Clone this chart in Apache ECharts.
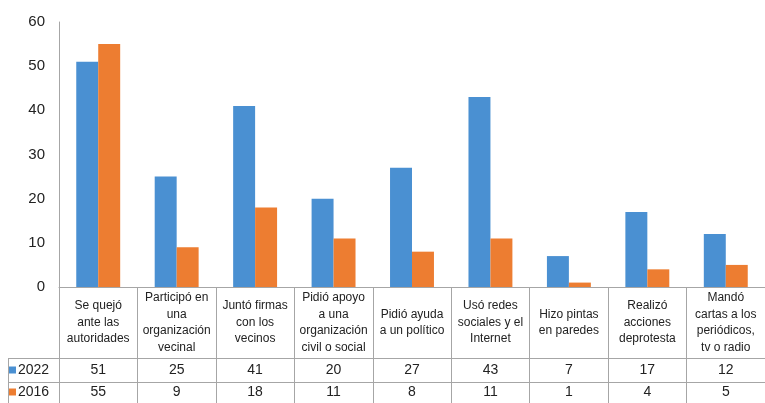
<!DOCTYPE html>
<html>
<head>
<meta charset="utf-8">
<script src="https://cdn.jsdelivr.net/npm/echarts@6/dist/echarts.min.js"></script>
<style>html,body{margin:0;padding:0;background:#fff;}#c{width:765px;height:403px;}</style>
</head>
<body>
<div id="c"></div>
<script>
const categories = [
  "Se quejó\nante las\nautoridades",
  "Participó en\nuna\norganización\nvecinal",
  "Juntó firmas\ncon los\nvecinos",
  "Pidió apoyo\na una\norganización\ncivil o social",
  "Pidió ayuda\na un político",
  "Usó redes\nsociales y el\nInternet",
  "Hizo pintas\nen paredes",
  "Realizó\nacciones\ndeprotesta",
  "Mandó\ncartas a los\nperiódicos,\ntv o radio"
];
const values2022 = [51, 25, 41, 20, 27, 43, 7, 17, 12];
const values2016 = [55, 9, 18, 11, 8, 11, 1, 4, 5];
const seriesNames = ["2022", "2016"];

const blue = '#4A90D2';
const orange = '#ED7D31';
const lineColor = '#A6A6A6';
const font = 'Liberation Sans, Arial, sans-serif';

const chart = echarts.init(document.getElementById('c'), null, {renderer: 'canvas'});
chart.setOption({
  animation: false,
  textStyle: {fontFamily: font},
  grid: {left: 59, right: -4, top: 22, bottom: 116, containLabel: false},
  legend: {
    orient: 'vertical', left: 9, top: 363, padding: 0, itemGap: 8,
    itemWidth: 7, itemHeight: 7, icon: 'rect',
    textStyle: {fontSize: 14, color: '#222', fontFamily: font, padding: [0,0,0,-3]},
    data: seriesNames
  },
  xAxis: [
    {
      type: 'category', data: categories, position: 'bottom',
      axisLine: {show: true, lineStyle: {color: lineColor, width: 1}},
      axisTick: {show: true, length: 116, alignWithLabel: false, lineStyle: {color: lineColor}},
      axisLabel: {interval: 0, fontSize: 12, lineHeight: 16.5, color: '#222', margin: 35.5,
                  verticalAlign: 'middle', align: 'center', fontFamily: font}
    },
    {
      type: 'category', data: categories, position: 'bottom', offset: 71,
      axisLine: {show: true, lineStyle: {color: lineColor, width: 1}},
      axisTick: {show: false},
      axisLabel: {interval: 0, fontSize: 14, color: '#222', margin: 12, verticalAlign: 'middle',
                  fontFamily: font, formatter: (v, i) => String(values2022[i])}
    },
    {
      type: 'category', data: categories, position: 'bottom', offset: 95,
      axisLine: {show: true, lineStyle: {color: lineColor, width: 1}},
      axisTick: {show: false},
      axisLabel: {interval: 0, fontSize: 14, color: '#222', margin: 10.5, verticalAlign: 'middle',
                  fontFamily: font, formatter: (v, i) => String(values2016[i])}
    }
  ],
  yAxis: {
    type: 'value', min: 0, max: 60, interval: 10,
    axisLine: {show: true, lineStyle: {color: lineColor, width: 1}},
    axisTick: {show: false},
    splitLine: {show: false},
    axisLabel: {fontSize: 15, color: '#222', margin: 14, fontFamily: font}
  },
  graphic: [
    {type: 'line', shape: {x1: 8, y1: 358.5, x2: 59, y2: 358.5}, style: {stroke: lineColor, lineWidth: 1}},
    {type: 'line', shape: {x1: 8, y1: 382.5, x2: 59, y2: 382.5}, style: {stroke: lineColor, lineWidth: 1}},
    {type: 'line', shape: {x1: 8.5, y1: 358, x2: 8.5, y2: 403}, style: {stroke: lineColor, lineWidth: 1}}
  ],
  series: [
    {name: seriesNames[0], type: 'bar', data: values2022, itemStyle: {color: blue},
     barGap: '0%', barCategoryGap: '44%'},
    {name: seriesNames[1], type: 'bar', data: values2016, itemStyle: {color: orange},
     barGap: '0%', barCategoryGap: '44%'}
  ]
});
</script>
</body>
</html>
